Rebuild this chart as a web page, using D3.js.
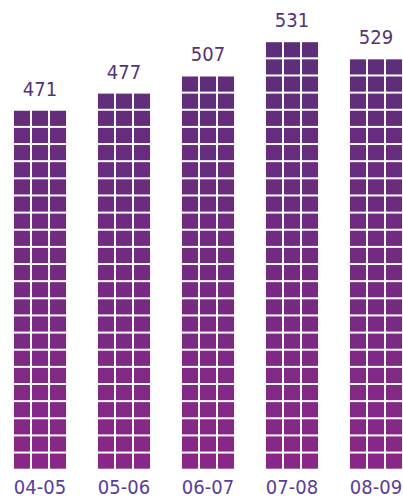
<!DOCTYPE html>
<html>
<head>
<meta charset="utf-8">
<script src="https://cdn.jsdelivr.net/npm/d3@7"></script>
<style>
  html, body { margin: 0; padding: 0; background: #fff; }
  svg { display: block; }
</style>
</head>
<body>
<svg id="chart" width="403" height="501"></svg>
<script>
const years = ["04-05", "05-06", "06-07", "07-08", "08-09"];
const values = [471, 477, 507, 531, 529];
const columnsPerBar = 3;

const W = 403, H = 501;
const baseline = 470.7;
const rowPitch = 17.14;
const gap = 2;

const svg = d3.select("#chart");

const x = d3.scaleBand()
  .domain(years)
  .range([-2, 418])
  .paddingInner(0.38)
  .paddingOuter(0.19);

// value -> number of rows of cells
const rowsScale = d3.scaleLinear().domain([85, 531]).range([0, 24.55]);

const color = d3.scaleLinear()
  .domain([40, baseline])
  .range(["#5b2e79", "#8a2789"])
  .interpolate(d3.interpolateRgb);

const data = years.map((y, i) => ({ year: y, value: values[i], rows: Math.round(rowsScale(values[i])) }));

const bars = svg.selectAll("g.bar").data(data).join("g").attr("class", "bar");

bars.each(function(d) {
  const g = d3.select(this);
  const bx = x(d.year), bw = x.bandwidth();
  const cw = (bw - gap * (columnsPerBar - 1)) / columnsPerBar;
  const cells = [];
  for (let r = 0; r < d.rows; r++) {
    for (let c = 0; c < columnsPerBar; c++) cells.push({ r, c });
  }
  const top = baseline - d.rows * rowPitch;
  g.selectAll("rect").data(cells).join("rect")
    .attr("x", c => bx + c.c * (cw + gap))
    .attr("y", c => top + c.r * rowPitch)
    .attr("width", cw)
    .attr("height", rowPitch - gap)
    .attr("fill", c => color(top + c.r * rowPitch + rowPitch / 2));
  g.append("text")
    .attr("x", bx + bw / 2)
    .attr("y", top - 15)
    .attr("text-anchor", "middle")
    .attr("font-family", "'DejaVu Sans', sans-serif")
    .attr("font-stretch", "condensed")
    .attr("font-size", 20)
    .attr("fill", "#563277")
    .text(d.value);
});

const xAxis = d3.axisBottom(x).tickSize(0).tickPadding(0);
const ax = svg.append("g").attr("transform", `translate(0,${baseline})`).call(xAxis);
ax.select(".domain").remove();
ax.selectAll("text")
  .attr("y", 23.5)
  .attr("dy", 0)
  .attr("font-family", "'DejaVu Sans', sans-serif")
  .attr("font-stretch", "condensed")
  .attr("font-size", 20)
  .attr("fill", "#5a3d9a");
</script>
</body>
</html>
